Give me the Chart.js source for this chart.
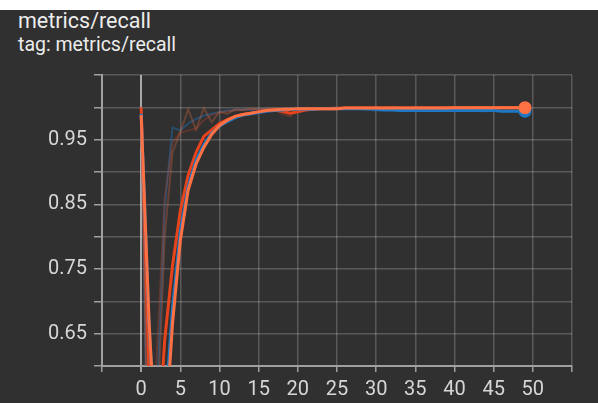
<!DOCTYPE html>
<html>
<head>
<meta charset="utf-8">
<script src="https://cdn.jsdelivr.net/npm/chart.js@4.4.1/dist/chart.umd.min.js"></script>
<style>
    html, body { margin: 0; padding: 0; width: 598px; height: 403px; overflow: hidden; background: #303030; }
    #topbar { position: absolute; left: 0; top: 0; width: 598px; height: 10px; background: #ffffff; }
    .head { position: absolute; left: 18px; line-height: 1; color: #ececec; font-family: Roboto, sans-serif; white-space: nowrap; }
    #title { top: 10px; font-size: 21.5px; }
    #tag { top: 35px; font-size: 19.5px; }
    #chart { position: absolute; left: 0; top: 0; }
</style>
</head>
<body>
<div id="topbar"></div>
<div class="head" id="title">metrics/recall</div>
<div class="head" id="tag">tag: metrics/recall</div>
<canvas id="chart" width="598" height="403"></canvas>
<script>
// epochs
const steps = [0, 1, 2, 3, 4, 5, 6, 7, 8, 9, 10, 11, 12, 13, 14, 15, 16, 17, 18, 19,
    20, 21, 22, 23, 24, 25, 26, 27, 28, 29, 30, 31, 32, 33, 34, 35, 36, 37, 38, 39,
    40, 41, 42, 43, 44, 45, 46, 47, 48, 49];

// smoothed runs
const orangeSmooth = [0.988, 0.671, 0.45, 0.48, 0.665, 0.794, 0.872, 0.912, 0.938, 0.958,
    0.972, 0.980, 0.986, 0.989, 0.991, 0.993, 0.995, 0.996, 0.997, 0.997,
    0.998, 0.998, 0.998, 0.998, 0.998, 0.998, 0.999, 0.999, 0.999, 0.999,
    0.999, 0.999, 0.999, 0.999, 0.999, 0.999, 0.999, 0.999, 0.999, 0.999,
    0.9995, 0.9995, 0.9995, 0.9995, 0.9995, 0.9995, 0.9995, 0.9995, 0.9995, 0.9995];
const blueSmooth = [0.990, 0.665, 0.45, 0.52, 0.69, 0.808, 0.878, 0.918, 0.942, 0.960,
    0.971, 0.978, 0.984, 0.988, 0.990, 0.992, 0.994, 0.995, 0.996, 0.997,
    0.997, 0.997, 0.997, 0.998, 0.998, 0.998, 0.998, 0.998, 0.998, 0.998,
    0.997, 0.996, 0.996, 0.995, 0.995, 0.995, 0.995, 0.995, 0.995, 0.995,
    0.995, 0.995, 0.995, 0.995, 0.995, 0.995, 0.994, 0.994, 0.994, 0.994];
const redSmooth = [1.0, 0.59, 0.45, 0.64, 0.755, 0.84, 0.895, 0.93, 0.955, 0.965,
    0.975, 0.981, 0.986, 0.989, 0.991, 0.993, 0.995, 0.996, 0.994, 0.991,
    0.993, 0.996, 0.997, 0.998, 0.998, 0.998, 0.999, 0.999, 0.999, 0.999,
    0.999, 0.999, 0.999, 0.999, 0.999, 0.999, 0.999, 0.999, 0.999, 0.999,
    0.9995, 0.9995, 0.9995, 0.9995, 0.9995, 0.9995, 0.9995, 0.9995, 0.9995, 0.9995];

// raw runs (faint)
const orangeRaw = [1.0, 0.35, 0.5, 0.80, 0.93, 0.962, 0.997, 0.965, 0.999, 0.977,
    0.993, 0.990, 0.997, 0.996, 0.998, 0.997, 0.998, 0.999, 0.998, 0.999,
    0.998, 0.999, 0.999, 0.998, 0.999, 1.0, 0.999, 0.999, 1.0, 0.999,
    1.0, 0.999, 1.0, 1.0, 0.999, 1.0, 1.0, 0.999, 1.0, 1.0,
    1.0, 0.999, 1.0, 1.0, 1.0, 1.0, 0.999, 1.0, 1.0, 1.0];
const blueRaw = [1.0, 0.3, 0.55, 0.845, 0.969, 0.964, 0.975, 0.982, 0.987, 0.990,
    0.993, 0.995, 0.996, 0.997, 0.996, 0.997, 0.998, 0.997, 0.998, 0.998,
    0.997, 0.998, 0.998, 0.998, 0.997, 0.998, 0.998, 0.998, 0.997, 0.996,
    0.995, 0.995, 0.996, 0.995, 0.994, 0.995, 0.995, 0.994, 0.995, 0.995,
    0.994, 0.995, 0.995, 0.994, 0.994, 0.995, 0.994, 0.994, 0.994, 0.994];
const redRaw = [1.0, 0.4, 0.62, 0.86, 0.945, 0.961, 0.964, 0.967, 0.980, 0.988,
    0.992, 0.994, 0.995, 0.996, 0.997, 0.997, 0.998, 0.997, 0.990, 0.986,
    0.996, 0.998, 0.998, 0.999, 0.998, 0.999, 0.999, 0.999, 0.999, 1.0,
    0.999, 0.999, 1.0, 0.999, 0.999, 1.0, 0.999, 1.0, 0.999, 1.0,
    1.0, 0.999, 1.0, 0.999, 1.0, 1.0, 0.999, 1.0, 1.0, 1.0];

const xTickLabels = [0, 5, 10, 15, 20, 25, 30, 35, 40, 45, 50];
const yTickLabels = ["0.65", "0.75", "0.85", "0.95"];

const gridColor = "rgba(255, 255, 255, 0.2)";
const axisColor = "#a0a0a0";
const labelColor = "#d6d6d6";
const lastIndex = steps.length - 1;

function points(values) {
    return steps.map((s, i) => ({ x: s, y: values[i] }));
}

function line(values, color, width, order, marker) {
    return {
        data: points(values),
        borderColor: color,
        borderWidth: width,
        backgroundColor: color,
        tension: 0,
        order,
        pointRadius: (ctx) => (marker && ctx.dataIndex === lastIndex ? 6.5 : 0),
        pointBorderWidth: 0,
        pointBackgroundColor: color,
    };
}

const config = {
    type: "line",
    data: {
        datasets: [
            line(orangeSmooth, "#ff7043", 3, 1, true),
            line(blueSmooth, "#1f78c4", 3, 2, true),
            line(redSmooth, "#e8441c", 3, 3, false),
            line(orangeRaw, "rgba(230, 110, 70, 0.3)", 2, 4, false),
            line(redRaw, "rgba(200, 70, 40, 0.3)", 2, 5, false),
            line(blueRaw, "rgba(31, 120, 196, 0.4)", 2, 6, false),
        ],
    },
    options: {
        responsive: false,
        animation: false,
        layout: { padding: { top: 75, right: 26, left: 0, bottom: 0 } },
        plugins: { legend: { display: false }, tooltip: { enabled: false } },
        scales: {
            x: {
                type: "linear",
                min: -5,
                max: 55,
                afterFit: (scale) => {
                    scale.height = 37;
                },
                ticks: {
                    stepSize: 5,
                    color: labelColor,
                    padding: 6,
                    maxRotation: 0,
                    autoSkip: false,
                    font: { family: "Roboto", size: 20 },
                    callback: (value) => (xTickLabels.includes(value) ? String(value) : ""),
                },
                grid: {
                    color: (ctx) => (ctx.tick && ctx.tick.value === 0 ? "#a8a8a8" : gridColor),
                    lineWidth: (ctx) => (ctx.tick && ctx.tick.value === 0 ? 2 : 1.5),
                    tickColor: axisColor,
                    tickLength: 6,
                },
                border: { color: axisColor, width: 2 },
            },
            y: {
                min: 0.6,
                max: 1.05,
                afterFit: (scale) => {
                    scale.width = 102;
                },
                ticks: {
                    stepSize: 0.05,
                    color: labelColor,
                    padding: 7,
                    autoSkip: false,
                    font: { family: "Roboto", size: 20 },
                    callback: (value) => {
                        const label = Number(value).toFixed(2);
                        return yTickLabels.includes(label) ? label : "";
                    },
                },
                grid: {
                    color: gridColor,
                    lineWidth: 1.5,
                    tickColor: axisColor,
                    tickLength: 8,
                },
                border: { color: axisColor, width: 2 },
            },
        },
    },
};

new Chart(document.getElementById("chart"), config);
</script>
</body>
</html>
